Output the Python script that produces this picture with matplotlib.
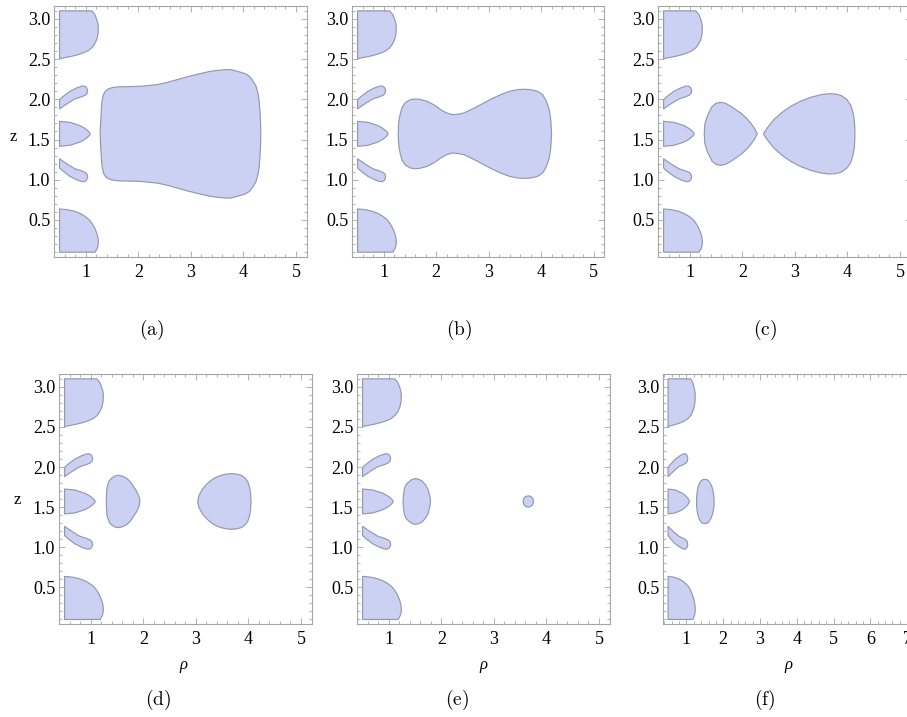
import matplotlib.pyplot as plt
from matplotlib.patches import Polygon

plt.rcParams['font.family'] = ['Liberation Serif', 'DejaVu Serif']
plt.rcParams['mathtext.fontset'] = 'cm'

# symmetry line of the regions (z = pi/2)
Z_MID = 1.571

# --- regions shared by all panels (rho, z) ---
top_cap = [(0.5, 3.1), (1.113, 3.1), (1.17, 3.055), (1.21, 2.99), (1.232, 2.935),
           (1.239, 2.885), (1.232, 2.81), (1.208, 2.743), (1.165, 2.685), (1.113, 2.64),
           (1.04, 2.603), (0.952, 2.577), (0.84, 2.553), (0.73, 2.535), (0.6, 2.518),
           (0.5, 2.506)]
bottom_cap = [(0.5, 0.1), (0.5, 0.637), (0.65, 0.628), (0.79, 0.607), (0.89, 0.582),
              (0.985, 0.545), (1.055, 0.51), (1.113, 0.463), (1.165, 0.405), (1.208, 0.338),
              (1.23, 0.285), (1.239, 0.234), (1.235, 0.19), (1.22, 0.152), (1.176, 0.1)]
upper_lobe = [(0.5, 1.881), (0.5, 1.996), (0.57, 2.037), (0.698, 2.10), (0.826, 2.142),
              (0.922, 2.164), (0.975, 2.165), (1.015, 2.145), (1.035, 2.112), (1.025, 2.075),
              (0.99, 2.052), (0.922, 2.032), (0.793, 2.005), (0.666, 1.955), (0.57, 1.913)]
# upper halves of the lobes centred on z = pi/2
mid_lobe = [(0.5, 1.571), (0.5, 1.726), (0.698, 1.714), (0.889, 1.673), (0.98, 1.64),
            (1.035, 1.612), (1.065, 1.592), (1.078, 1.58), (1.082, 1.571)]

# --- panel specific regions (upper halves) ---
a_big = [(1.272, 1.571), (1.28, 1.70), (1.29, 1.80), (1.298, 1.90), (1.31, 1.98),
         (1.335, 2.058), (1.37, 2.10), (1.43, 2.129), (1.50, 2.145), (1.59, 2.154),
         (1.80, 2.158), (2.04, 2.162), (2.36, 2.183), (2.55, 2.21), (2.74, 2.245),
         (2.96, 2.285), (3.18, 2.32), (3.35, 2.345), (3.50, 2.36), (3.65, 2.368),
         (3.76, 2.37), (3.92, 2.341), (4.03, 2.32), (4.107, 2.29), (4.17, 2.24),
         (4.235, 2.17), (4.275, 2.08), (4.298, 1.99), (4.315, 1.85), (4.325, 1.72),
         (4.33, 1.571)]
b_big = [(1.275, 1.571), (1.282, 1.68), (1.295, 1.76), (1.319, 1.831), (1.35, 1.90),
         (1.40, 1.95), (1.447, 1.975), (1.52, 1.998), (1.606, 2.005), (1.70, 1.998),
         (1.829, 1.975), (1.96, 1.93), (2.084, 1.872), (2.2, 1.83), (2.308, 1.81),
         (2.42, 1.815), (2.53, 1.831), (2.69, 1.88), (2.849, 1.934), (3.04, 2.0),
         (3.231, 2.059), (3.40, 2.10), (3.55, 2.12), (3.68, 2.125), (3.805, 2.12),
         (3.93, 2.10), (4.029, 2.059), (4.10, 1.98), (4.155, 1.872), (4.185, 1.75),
         (4.20, 1.571)]
c_left = [(1.275, 1.571), (1.285, 1.69), (1.33, 1.789), (1.425, 1.913), (1.50, 1.95),
          (1.584, 1.963), (1.68, 1.95), (1.80, 1.905), (1.966, 1.831), (2.07, 1.77),
          (2.156, 1.707), (2.23, 1.64), (2.284, 1.571)]
c_right = [(2.40, 1.571), (2.48, 1.65), (2.601, 1.748), (2.76, 1.84), (2.92, 1.913),
           (3.10, 1.975), (3.30, 2.025), (3.50, 2.058), (3.65, 2.07), (3.77, 2.066),
           (3.89, 2.045), (3.99, 1.996), (4.06, 1.93), (4.105, 1.84), (4.13, 1.74),
           (4.14, 1.65), (4.142, 1.571)]
d_left = [(1.294, 1.571), (1.30, 1.68), (1.31, 1.751), (1.35, 1.83), (1.404, 1.868),
          (1.47, 1.892), (1.53, 1.897), (1.61, 1.885), (1.69, 1.856), (1.76, 1.81),
          (1.818, 1.751), (1.87, 1.70), (1.91, 1.645), (1.928, 1.605), (1.933, 1.571)]
d_right = [(3.033, 1.571), (3.06, 1.65), (3.13, 1.731), (3.21, 1.79), (3.29, 1.835),
           (3.38, 1.872), (3.48, 1.897), (3.58, 1.912), (3.672, 1.918), (3.77, 1.912),
           (3.864, 1.897), (3.94, 1.86), (3.99, 1.814), (4.025, 1.74), (4.04, 1.67),
           (4.05, 1.571)]
e_left = [(1.27, 1.571), (1.28, 1.66), (1.296, 1.731), (1.33, 1.785), (1.379, 1.814),
          (1.44, 1.845), (1.507, 1.856), (1.57, 1.848), (1.635, 1.826), (1.695, 1.78),
          (1.742, 1.731), (1.775, 1.65), (1.79, 1.60), (1.793, 1.571)]
e_dot = [(3.555, 1.571), (3.57, 1.61), (3.61, 1.635), (3.654, 1.641), (3.70, 1.635),
         (3.74, 1.61), (3.752, 1.571)]
f_left = [(1.274, 1.571), (1.282, 1.66), (1.305, 1.73), (1.345, 1.79), (1.40, 1.83),
          (1.46, 1.845), (1.515, 1.846), (1.57, 1.84), (1.625, 1.815), (1.68, 1.77),
          (1.72, 1.71), (1.745, 1.64), (1.753, 1.571)]

panel_shapes = [[a_big], [b_big], [c_left, c_right],
                [d_left, d_right], [e_left, e_dot], [f_left]]
captions = ['(a)', '(b)', '(c)', '(d)', '(e)', '(f)']
x_maxes = [5, 5, 5, 5, 5, 7]
x_limits = [(0.408, 5.19)] * 5 + [(0.37, 7.23)]

FACE = '#cbd1f3'
EDGE = '#9597b0'
FRAME = '#a6a6a6'


def mirror(half):
    return half + [(x, 2 * Z_MID - z) for x, z in reversed(half)]


W, H = 907, 717
fig = plt.figure(figsize=(W / 100, H / 100), dpi=100)


def px_axes(l, t, r, b):
    return fig.add_axes([l / W, 1 - b / H, (r - l) / W, (b - t) / H])


boxes = [(54.3, 6, 306.5, 257), (352.3, 6, 604, 257), (658.3, 6, 910.5, 257),
         (59.3, 374, 311.5, 624.3), (357.3, 374, 609.5, 624.3), (663.3, 374, 915.5, 624.3)]
cap_pos = [(152, 330), (459, 330), (765, 330), (158, 700), (457, 700), (765, 700)]

lower_lobe = [(x, 2 * Z_MID - z) for x, z in upper_lobe]

for i, box in enumerate(boxes):
    ax = px_axes(*box)
    common = [top_cap, bottom_cap, upper_lobe, lower_lobe, mirror(mid_lobe)]
    own = [mirror(s) for s in panel_shapes[i]]
    for pts in common + own:
        ax.add_patch(Polygon(pts, closed=True, facecolor=FACE, edgecolor=EDGE,
                             linewidth=0.85, joinstyle='round'))
    ax.set_xlim(*x_limits[i])
    ax.set_ylim(0.04, 3.16)
    ax.set_xticks(range(1, x_maxes[i] + 1))
    ax.set_xticks([k * 0.2 for k in range(2, 5 * x_maxes[i] + 2)], minor=True)
    ax.set_yticks([0.5, 1.0, 1.5, 2.0, 2.5, 3.0])
    ax.set_yticklabels(['0.5', '1.0', '1.5', '2.0', '2.5', '3.0'])
    ax.set_yticks([k * 0.1 for k in range(1, 32)], minor=True)
    ax.tick_params(which='both', direction='in', top=True, right=True,
                   color=FRAME, width=0.6, labelsize=13)
    ax.tick_params(which='major', length=4)
    ax.tick_params(which='minor', length=2)
    ax.tick_params(axis='x', pad=5)
    ax.tick_params(axis='y', pad=3)
    for sp in ax.spines.values():
        sp.set_color(FRAME)
        sp.set_linewidth(0.8)
    fig.text(cap_pos[i][0] / W, 1 - cap_pos[i][1] / H, r'$\mathrm{' + captions[i] + '}$',
             ha='center', va='center', fontsize=14)

# axis labels
fig.text(13 / W, 1 - 137 / H, 'z', ha='center', va='center', fontsize=12)
fig.text(17 / W, 1 - 500 / H, 'z', ha='center', va='center', fontsize=12)
for xp in [183, 483, 788]:
    fig.text(xp / W, 1 - 665 / H, 'ρ', ha='center', va='center', fontsize=12,
             style='italic')

fig.savefig('out.png', dpi=100)
